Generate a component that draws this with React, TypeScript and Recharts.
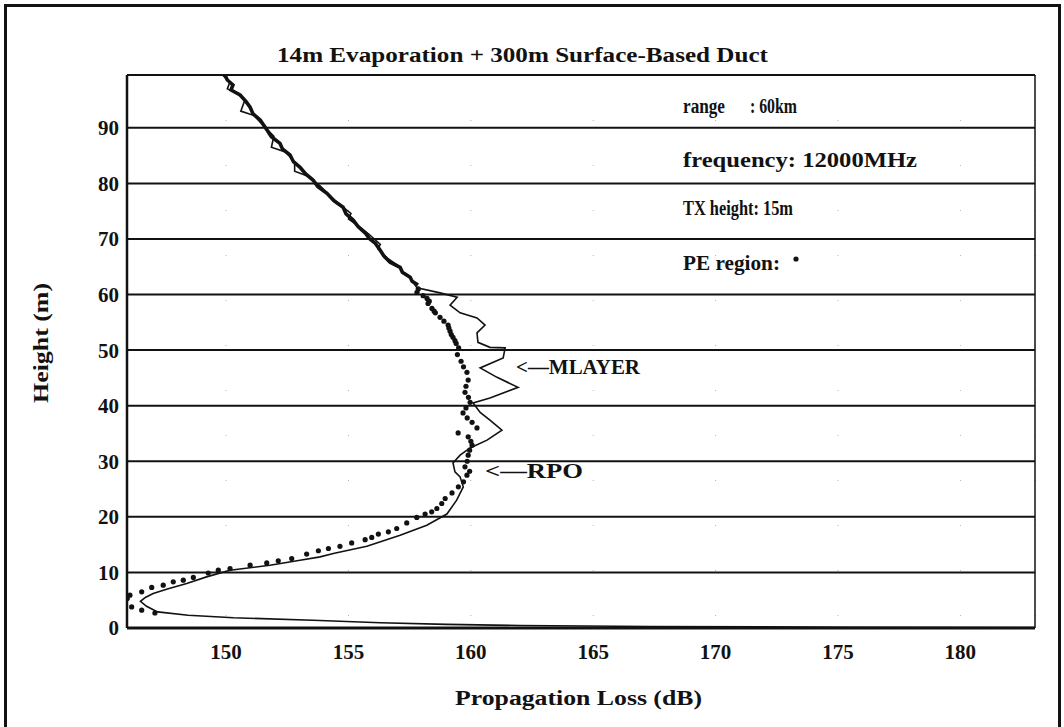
import React from 'react';
import { ComposedChart, Scatter, XAxis, YAxis, CartesianGrid, ReferenceLine } from 'recharts';

// axis ticks
const lossTicks = [150, 155, 160, 165, 170, 175, 180];
const heightTicks = [0, 10, 20, 30, 40, 50, 60, 70, 80, 90];

// MLAYER (thin line), read top to bottom, then the lower branch near the surface
const mlayerHeight = [
  99.5, 98.2, 97.0, 96.2, 94.8, 93.0, 92.2, 90.5, 88.5, 86.5, 85.6, 83.8, 82.2, 81.3, 79.5, 77.5,
  75.8, 74.6, 73.6, 72.2, 70.8, 69.0, 68.2, 66.5, 65.3, 64.0, 62.8, 61.2, 60.3, 59.5, 58.1, 56.7,
  55.8, 54.5, 53.1, 51.4, 50.5, 50.4, 48.6, 46.8, 45.1, 43.3, 41.4, 40.5, 38.8, 37.4, 35.6, 33.8,
  32.4, 31.1, 29.7, 28.1, 27.2, 25.4, 23.0, 20.5, 18.5, 16.7, 14.7, 13.4, 12.8, 12.2, 11.3, 10.4,
  9.2, 8.0, 7.0, 6.2, 5.5, 4.8, 3.9, 2.9, 2.3, 1.85, 1.4, 0.95, 0.66, 0.45, 0.27, 0.14, 0.08,
];
const mlayerLoss = [
  149.85, 150.15, 150.05, 150.5, 150.75, 150.6, 151.15, 151.5, 151.95, 151.85, 152.45, 152.8, 152.8, 153.35, 153.85, 154.3,
  154.75, 155.1, 155.0, 155.45, 155.85, 156.3, 156.2, 156.6, 157.0, 157.25, 157.55, 157.8, 158.74, 159.44, 159.15, 159.56,
  160.25, 160.58, 160.25, 160.29, 160.78, 161.4, 161.32, 160.38, 161.07, 161.93, 160.78, 160.09, 160.38, 160.78, 161.27, 160.66,
  159.97, 159.56, 159.27, 159.35, 159.56, 159.69, 159.42, 159.02, 158.2, 157.11, 155.75, 154.38, 153.84, 153.02, 151.79, 150.16,
  149.2, 148.39, 147.6, 147.02, 146.7, 146.5, 146.75, 147.2, 148.45, 150.3, 153.55, 156.3, 159.0, 162.0, 167.3, 175.5, 183.05,
];

// RPO, ray-optics part (thick line above the PE region)
const rpoLineHeight = [
  99.5, 98.6, 97.7, 96.8, 95.9, 94.8, 93.7, 92.5, 91.4, 89.6, 88.4, 87.2, 86.2, 85.1, 83.9, 82.9,
  81.7, 80.6, 79.4, 78.2, 76.9, 75.7, 74.5, 73.4, 72.2, 71.0, 70.1, 69.2, 68.0, 66.9, 65.8, 64.9,
  64.0, 63.1, 62.4, 61.7,
];
const rpoLineLoss = [
  149.95, 150.05, 150.28, 150.2, 150.57, 150.8, 150.98, 151.1, 151.39, 151.67, 151.85, 152.2, 152.3, 152.61, 152.75, 153.02,
  153.25, 153.55, 153.75, 154.12, 154.4, 154.78, 154.9, 155.19, 155.4, 155.7, 155.85, 156.1, 156.29, 156.45, 156.7, 157.11,
  157.2, 157.52, 157.6, 157.84,
];

// RPO, PE region (dots)
const rpoDotHeight = [
  61.0, 60.4, 59.8, 59.3, 58.8, 58.4, 57.5, 57.0, 56.7, 55.9, 55.2, 54.5, 54.0, 53.4, 52.8, 52.3,
  51.7, 51.2, 50.4, 49.2, 48.0, 47.0, 46.0, 44.6, 43.5, 42.4, 41.5, 40.6, 39.6, 38.7, 37.8, 37.0,
  36.0, 35.1, 34.4, 33.6, 32.9, 32.0, 31.1, 30.0, 29.0, 28.2, 27.5, 26.3, 25.4, 24.3, 23.3, 22.4,
  21.5, 20.9, 20.5, 19.9, 18.9, 17.9, 17.3, 16.9, 16.3, 15.9, 15.3, 14.7, 14.3, 13.9, 13.3, 12.5,
  12.1, 11.7, 11.3, 10.7, 10.4, 9.9, 9.1, 8.6, 8.3, 7.7, 7.3, 6.5, 5.9, 5.3, 3.8, 3.2, 2.7,
];
const rpoDotLoss = [
  157.85, 157.8, 158.05, 158.21, 158.3, 158.25, 158.41, 158.5, 158.55, 158.74, 158.9, 159.07, 159.1, 159.15, 159.2, 159.27,
  159.35, 159.4, 159.5, 159.45, 159.6, 159.7, 159.84, 159.89, 159.8, 159.76, 159.9, 159.97, 159.8, 159.68, 159.85, 160.05,
  160.25, 159.48, 159.89, 160.0, 160.05, 159.95, 159.89, 159.85, 159.76, 159.95, 159.84, 159.7, 159.49, 159.23, 158.95, 158.81,
  158.61, 158.4, 158.13, 157.79, 157.38, 156.97, 156.63, 156.22, 155.95, 155.68, 155.13, 154.65, 154.18, 153.77, 153.29, 152.68,
  152.13, 151.66, 150.98, 150.16, 149.68, 149.27, 148.66, 148.25, 147.84, 147.43, 146.96, 146.55, 146.07, 145.96, 146.14, 146.55, 147.09,
];

const pts = (hs: number[], ls: number[]) => hs.map((h, i) => ({ h, loss: ls[i] }));
const mlayer = pts(mlayerHeight, mlayerLoss);
const rpoLine = pts(rpoLineHeight, rpoLineLoss);
const rpoDots = pts(rpoDotHeight, rpoDotLoss);

const serif = "'Liberation Serif', 'Times New Roman', serif";
const ink = '#121212';
const tickStyle = { fontFamily: serif, fontSize: 21, fontWeight: 700, fill: ink };
const noMark = () => <g />;
const dot = (p: any) => <circle cx={p.cx} cy={p.cy} r={2.6} fill={ink} />;

export default function App() {
  const txt = { fontFamily: serif, fontSize: 20, fontWeight: 700, fill: ink } as const;
  return (
    <div style={{ position: 'absolute', left: 0, top: 0, width: 1064, height: 727, overflow: 'hidden', background: '#fff' }}>
      <div style={{ position: 'absolute', left: 4, top: 4, width: 1051, height: 780, border: `3px solid ${ink}` }} />
      <ComposedChart width={1064} height={727} margin={{ top: 75, right: 29, bottom: 59, left: 67 }}>
        <CartesianGrid horizontal={false} stroke="#b0b0b0" strokeDasharray="1 44" />
        <CartesianGrid vertical={false} stroke={ink} strokeWidth={2} />
        <XAxis type="number" dataKey="loss" domain={[145.95, 183.05]} ticks={lossTicks} interval={0} allowDataOverflow
          height={40} tickLine={false} tickMargin={10} axisLine={{ stroke: ink, strokeWidth: 3 }} tick={tickStyle} />
        <YAxis type="number" dataKey="h" domain={[0, 99.5]} ticks={heightTicks} interval={0} allowDataOverflow
          width={60} tickLine={false} axisLine={{ stroke: ink, strokeWidth: 2.5 }} tick={tickStyle} />
        <ReferenceLine y={99.5} stroke={ink} strokeWidth={2} />
        <ReferenceLine x={183.05} stroke={ink} strokeWidth={1.5} />
        <Scatter name="MLAYER" data={mlayer} line={{ stroke: ink, strokeWidth: 1.6 }} shape={noMark} isAnimationActive={false} />
        <Scatter name="RPO" data={rpoLine} line={{ stroke: ink, strokeWidth: 3.6 }} shape={noMark} isAnimationActive={false} />
        <Scatter name="PE region" data={rpoDots} shape={dot} isAnimationActive={false} />
      </ComposedChart>
      <svg width={1064} height={727} style={{ position: 'absolute', left: 0, top: 0, pointerEvents: 'none' }}>
        <text x={277} y={62} {...txt} textLength={491} lengthAdjust="spacingAndGlyphs">14m Evaporation + 300m Surface-Based Duct</text>
        <text x={683} y={113} {...txt} textLength={42} lengthAdjust="spacingAndGlyphs">range</text>
        <text x={750} y={113} {...txt} textLength={47} lengthAdjust="spacingAndGlyphs">: 60km</text>
        <text x={683} y={167} {...txt} textLength={234} lengthAdjust="spacingAndGlyphs">frequency: 12000MHz</text>
        <text x={683} y={215} {...txt} textLength={110} lengthAdjust="spacingAndGlyphs">TX height: 15m</text>
        <text x={683} y={270} {...txt} textLength={97} lengthAdjust="spacingAndGlyphs">PE region:</text>
        <circle cx={796} cy={259} r={2.6} fill={ink} />
        <text x={516} y={374} {...txt} textLength={124} lengthAdjust="spacingAndGlyphs">{'<\u2014MLAYER'}</text>
        <text x={485} y={478} {...txt} textLength={98} lengthAdjust="spacingAndGlyphs">{'<\u2014RPO'}</text>
        <text x={455} y={705} {...txt} textLength={247} lengthAdjust="spacingAndGlyphs">Propagation Loss (dB)</text>
        <text x={0} y={0} {...txt} textLength={120} lengthAdjust="spacingAndGlyphs" textAnchor="middle"
          transform="translate(48 343) rotate(-90)">Height (m)</text>
      </svg>
    </div>
  );
}
